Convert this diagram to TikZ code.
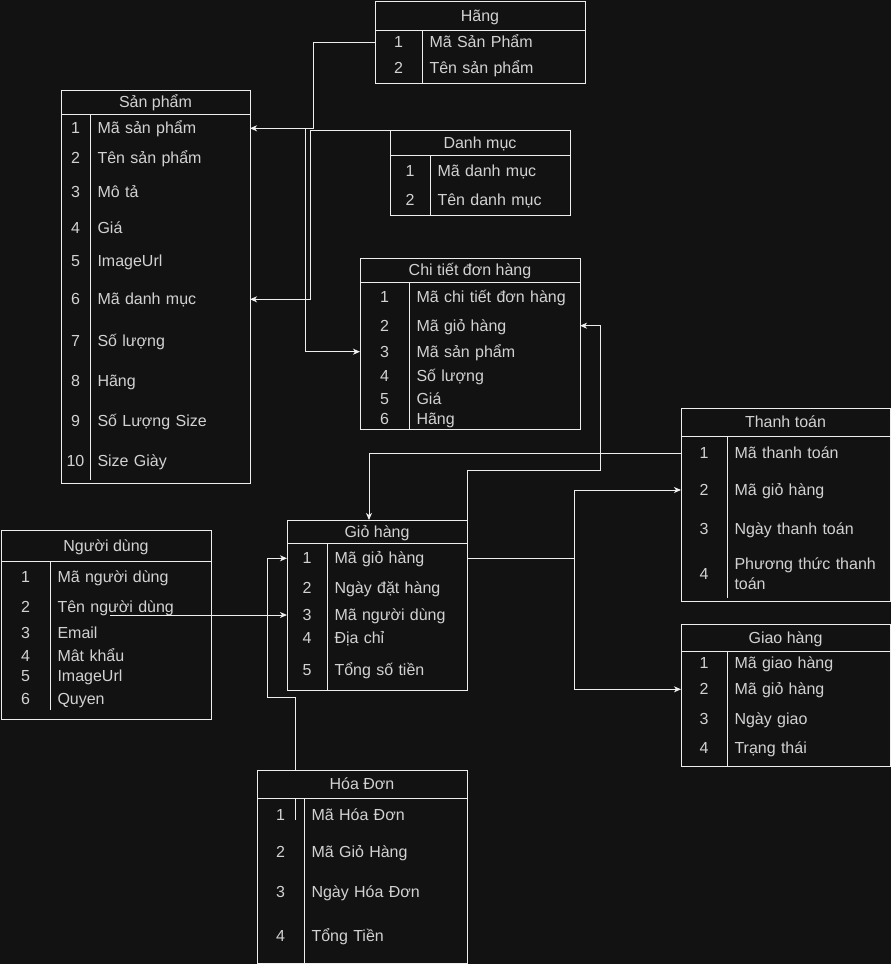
\documentclass[tikz,border=0pt]{standalone}
\usepackage{fontspec}
\setmainfont{Liberation Sans}
\usetikzlibrary{arrows.meta, positioning}

\definecolor{bgcol}{HTML}{121212}
\definecolor{linecol}{HTML}{EEEEEE}
\definecolor{txtcol}{HTML}{D2D2D2}

\begin{document}
\begin{tikzpicture}[
    x=1pt, y=-1pt, line width=1pt,
    every node/.style={font=\fontsize{16}{20}\selectfont, text=txtcol},
    tablehead/.style={rectangle, draw=linecol, fill=bgcol, inner sep=0pt, outer sep=0pt,
                      text height=11.1pt, text depth=0pt},
    tablebody/.style={rectangle, draw=linecol, inner sep=0pt, outer sep=0pt},
    numcell/.style={anchor=west, inner sep=0pt, outer sep=0pt, text height=11.1pt, text depth=0pt},
    fieldcell/.style={anchor=west, inner xsep=7.5pt, inner ysep=0pt, outer sep=0pt, align=left,
                      text height=11.1pt, text depth=0pt},
    arrow/.style={-{Stealth[length=7pt, width=6pt, inset=2pt]}, draw=linecol}
]

\fill[bgcol] (0,0) rectangle (891,964);
\useasboundingbox (0,0) rectangle (891,964);

% Hãng
\node[tablehead, minimum width=210pt, minimum height=29pt] (hgh) at (480,15.5) {Hãng};
\node[tablebody, minimum width=210pt, minimum height=53pt, below=0pt of hgh] (hgb) {};
\node[numcell, minimum width=47pt] (hg1no) at (375,42) {1};
\node[fieldcell, text width=148pt] (hg1) at (422,42) {Mã Sản Phẩm};
\node[numcell, minimum width=47pt] (hg2no) at (375,68) {2};
\node[fieldcell, text width=148pt] (hg2) at (422,68) {Tên sản phẩm};
\draw[linecol] (hg1no.east |- hgb.north) -- (hg1no.east |- hgb.south);

% Sản phẩm
\node[tablehead, minimum width=189pt, minimum height=24pt] (sph) at (155.5,102) {Sản phẩm};
\node[tablebody, minimum width=189pt, minimum height=369pt, below=0pt of sph] (spb) {};
\node[numcell, minimum width=29pt] (sp1no) at (61,128.3) {1};
\node[fieldcell, text width=145pt] (sp1) at (90,128.3) {Mã sản phẩm};
\node[numcell, minimum width=29pt] (sp2no) at (61,158.3) {2};
\node[fieldcell, text width=145pt] (sp2) at (90,158.3) {Tên sản phẩm};
\node[numcell, minimum width=29pt] (sp3no) at (61,192.3) {3};
\node[fieldcell, text width=145pt] (sp3) at (90,192.3) {Mô tả};
\node[numcell, minimum width=29pt] (sp4no) at (61,227.7) {4};
\node[fieldcell, text width=145pt] (sp4) at (90,227.7) {Giá};
\node[numcell, minimum width=29pt] (sp5no) at (61,261) {5};
\node[fieldcell, text width=145pt] (sp5) at (90,261) {ImageUrl};
\node[numcell, minimum width=29pt] (sp6no) at (61,299.3) {6};
\node[fieldcell, text width=145pt] (sp6) at (90,299.3) {Mã danh mục};
\node[numcell, minimum width=29pt] (sp7no) at (61,340.7) {7};
\node[fieldcell, text width=145pt] (sp7) at (90,340.7) {Số lượng};
\node[numcell, minimum width=29pt] (sp8no) at (61,380.7) {8};
\node[fieldcell, text width=145pt] (sp8) at (90,380.7) {Hãng};
\node[numcell, minimum width=29pt] (sp9no) at (61,420.7) {9};
\node[fieldcell, text width=145pt] (sp9) at (90,420.7) {Số Lượng Size};
\node[numcell, minimum width=29pt] (sp10no) at (61,460.7) {10};
\node[fieldcell, text width=145pt] (sp10) at (90,460.7) {Size Giày};
\draw[linecol] (sp1no.east |- spb.north) -- ([yshift=3pt]sp1no.east |- spb.south);

% Danh mục
\node[tablehead, minimum width=180pt, minimum height=25pt] (dmh) at (480,142.5) {Danh mục};
\node[tablebody, minimum width=180pt, minimum height=60pt, below=0pt of dmh] (dmb) {};
\node[numcell, minimum width=40pt] (dm1no) at (390,170.7) {1};
\node[fieldcell, text width=125pt] (dm1) at (430,170.7) {Mã danh mục};
\node[numcell, minimum width=40pt] (dm2no) at (390,200) {2};
\node[fieldcell, text width=125pt] (dm2) at (430,200) {Tên danh mục};
\draw[linecol] (dm1no.east |- dmb.north) -- (dm1no.east |- dmb.south);

% Chi tiết đơn hàng
\node[tablehead, minimum width=220pt, minimum height=24pt] (cth) at (470,270) {Chi tiết đơn hàng};
\node[tablebody, minimum width=220pt, minimum height=147pt, below=0pt of cth] (ctb) {};
\node[numcell, minimum width=49pt] (ct1no) at (360,296.7) {1};
\node[fieldcell, text width=156pt] (ct1) at (409,296.7) {Mã chi tiết đơn hàng};
\node[numcell, minimum width=49pt] (ct2no) at (360,325.7) {2};
\node[fieldcell, text width=156pt] (ct2) at (409,325.7) {Mã giỏ hàng};
\node[numcell, minimum width=49pt] (ct3no) at (360,351.7) {3};
\node[fieldcell, text width=156pt] (ct3) at (409,351.7) {Mã sản phẩm};
\node[numcell, minimum width=49pt] (ct4no) at (360,375.7) {4};
\node[fieldcell, text width=156pt] (ct4) at (409,375.7) {Số lượng};
\node[numcell, minimum width=49pt] (ct5no) at (360,399.3) {5};
\node[fieldcell, text width=156pt] (ct5) at (409,399.3) {Giá};
\node[numcell, minimum width=49pt] (ct6no) at (360,418.7) {6};
\node[fieldcell, text width=156pt] (ct6) at (409,418.7) {Hãng};
\draw[linecol] (ct1no.east |- ctb.north) -- (ct1no.east |- ctb.south);

% Người dùng
\node[tablehead, minimum width=210pt, minimum height=31pt] (ndh) at (106,545.5) {Người dùng};
\node[tablebody, minimum width=210pt, minimum height=158pt, below=0pt of ndh] (ndb) {};
\node[numcell, minimum width=49pt] (nd1no) at (1,576.7) {1};
\node[fieldcell, text width=146pt] (nd1) at (50,576.7) {Mã người dùng};
\node[numcell, minimum width=49pt] (nd2no) at (1,606.7) {2};
\node[fieldcell, text width=146pt] (nd2) at (50,606.7) {Tên người dùng};
\node[numcell, minimum width=49pt] (nd3no) at (1,633.3) {3};
\node[fieldcell, text width=146pt] (nd3) at (50,633.3) {Email};
\node[numcell, minimum width=49pt] (nd4no) at (1,656) {4};
\node[fieldcell, text width=146pt] (nd4) at (50,656) {Mât khẩu};
\node[numcell, minimum width=49pt] (nd5no) at (1,676) {5};
\node[fieldcell, text width=146pt] (nd5) at (50,676) {ImageUrl};
\node[numcell, minimum width=49pt] (nd6no) at (1,699.3) {6};
\node[fieldcell, text width=146pt] (nd6) at (50,699.3) {Quyen};
\draw[linecol] (nd1no.east |- ndb.north) -- ([yshift=9pt]nd1no.east |- ndb.south);

% Giỏ hàng
\node[tablehead, minimum width=180pt, minimum height=23pt] (ghh) at (377,531.5) {Giỏ hàng};
\node[tablebody, minimum width=180pt, minimum height=147pt, below=0pt of ghh] (ghb) {};
\node[numcell, minimum width=40pt] (gh1no) at (287,558.3) {1};
\node[fieldcell, text width=125pt] (gh1) at (327,558.3) {Mã giỏ hàng};
\node[numcell, minimum width=40pt] (gh2no) at (287,588.3) {2};
\node[fieldcell, text width=125pt] (gh2) at (327,588.3) {Ngày đặt hàng};
\node[numcell, minimum width=40pt] (gh3no) at (287,615) {3};
\node[fieldcell, text width=125pt] (gh3) at (327,615) {Mã người dùng};
\node[numcell, minimum width=40pt] (gh4no) at (287,638.3) {4};
\node[fieldcell, text width=125pt] (gh4) at (327,638.3) {Địa chỉ};
\node[numcell, minimum width=40pt] (gh5no) at (287,670) {5};
\node[fieldcell, text width=125pt] (gh5) at (327,670) {Tổng số tiền};
\draw[linecol] (gh1no.east |- ghb.north) -- (gh1no.east |- ghb.south);

% Thanh toán
\node[tablehead, minimum width=209pt, minimum height=28pt] (tth) at (785.5,422) {Thanh toán};
\node[tablebody, minimum width=209pt, minimum height=165pt, below=0pt of tth] (ttb) {};
\node[numcell, minimum width=46pt] (tt1no) at (681,453.3) {1};
\node[fieldcell, text width=148pt] (tt1) at (727,453.3) {Mã thanh toán};
\node[numcell, minimum width=46pt] (tt2no) at (681,490) {2};
\node[fieldcell, text width=148pt] (tt2) at (727,490) {Mã giỏ hàng};
\node[numcell, minimum width=46pt] (tt3no) at (681,529.3) {3};
\node[fieldcell, text width=148pt] (tt3) at (727,529.3) {Ngày thanh toán};
\node[numcell, minimum width=46pt] (tt4no) at (681,574) {4};
\node[fieldcell, text width=148pt] (tt4) at (727,563.7) {Phương thức thanh toán};
\draw[linecol] (tt1no.east |- ttb.north) -- ([yshift=3pt]tt1no.east |- ttb.south);

% Giao hàng
\node[tablehead, minimum width=209pt, minimum height=27pt] (gvh) at (785.5,637.5) {Giao hàng};
\node[tablebody, minimum width=209pt, minimum height=115pt, below=0pt of gvh] (gvb) {};
\node[numcell, minimum width=46pt] (gv1no) at (681,663.3) {1};
\node[fieldcell, text width=148pt] (gv1) at (727,663.3) {Mã giao hàng};
\node[numcell, minimum width=46pt] (gv2no) at (681,689.3) {2};
\node[fieldcell, text width=148pt] (gv2) at (727,689.3) {Mã giỏ hàng};
\node[numcell, minimum width=46pt] (gv3no) at (681,719) {3};
\node[fieldcell, text width=148pt] (gv3) at (727,719) {Ngày giao};
\node[numcell, minimum width=46pt] (gv4no) at (681,748.3) {4};
\node[fieldcell, text width=148pt] (gv4) at (727,748.3) {Trạng thái};
\draw[linecol] (gv1no.east |- gvb.north) -- (gv1no.east |- gvb.south);

% Arrows
\draw[arrow] (hg1no.west) -| ([xshift=63pt]sp1.east) -- (sp1.east);
\draw[arrow] (dmh.north west) -| ([xshift=60pt]sp6.east) -- (sp6.east);
\draw[arrow] (sp1.east) -- ([xshift=55pt]sp1.east) |- (ct3no.west);
\draw[arrow] (tt1no.west) -| ([xshift=82pt]ghh.north west);
\draw[arrow] (ghh.north east) -- ([yshift=50pt]ghh.north east) -| ([xshift=20pt]ct2.east) -- (ct2.east);
\draw[arrow] (gh1.east) -- ([xshift=107pt]gh1.east) |- (tt2no.west);
\draw[arrow] (gh1.east) -- ([xshift=107pt]gh1.east) |- (gv2no.west);
\coordinate (ndout) at (110,615);
\draw[arrow] (ndout) -- (gh3no.west);
\coordinate (hdout) at (295.5,820);
\draw[arrow] (hdout) -- (295.5,697) -| ([xshift=-20pt]gh1no.west) -- (gh1no.west);

% Hóa Đơn
\node[tablehead, minimum width=210pt, minimum height=28pt] (hdh) at (362,784) {Hóa Đơn};
\node[tablebody, minimum width=210pt, minimum height=165pt, below=0pt of hdh] (hdb) {};
\node[numcell, minimum width=47pt] (hd1no) at (257,815) {1};
\node[fieldcell, text width=148pt] (hd1) at (304,815) {Mã Hóa Đơn};
\node[numcell, minimum width=47pt] (hd2no) at (257,851.7) {2};
\node[fieldcell, text width=148pt] (hd2) at (304,851.7) {Mã Giỏ Hàng};
\node[numcell, minimum width=47pt] (hd3no) at (257,891.7) {3};
\node[fieldcell, text width=148pt] (hd3) at (304,891.7) {Ngày Hóa Đơn};
\node[numcell, minimum width=47pt] (hd4no) at (257,936) {4};
\node[fieldcell, text width=148pt] (hd4) at (304,936) {Tổng Tiền};
\draw[linecol] (hd1no.east |- hdb.north) -- (hd1no.east |- hdb.south);

\end{tikzpicture}
\end{document}
